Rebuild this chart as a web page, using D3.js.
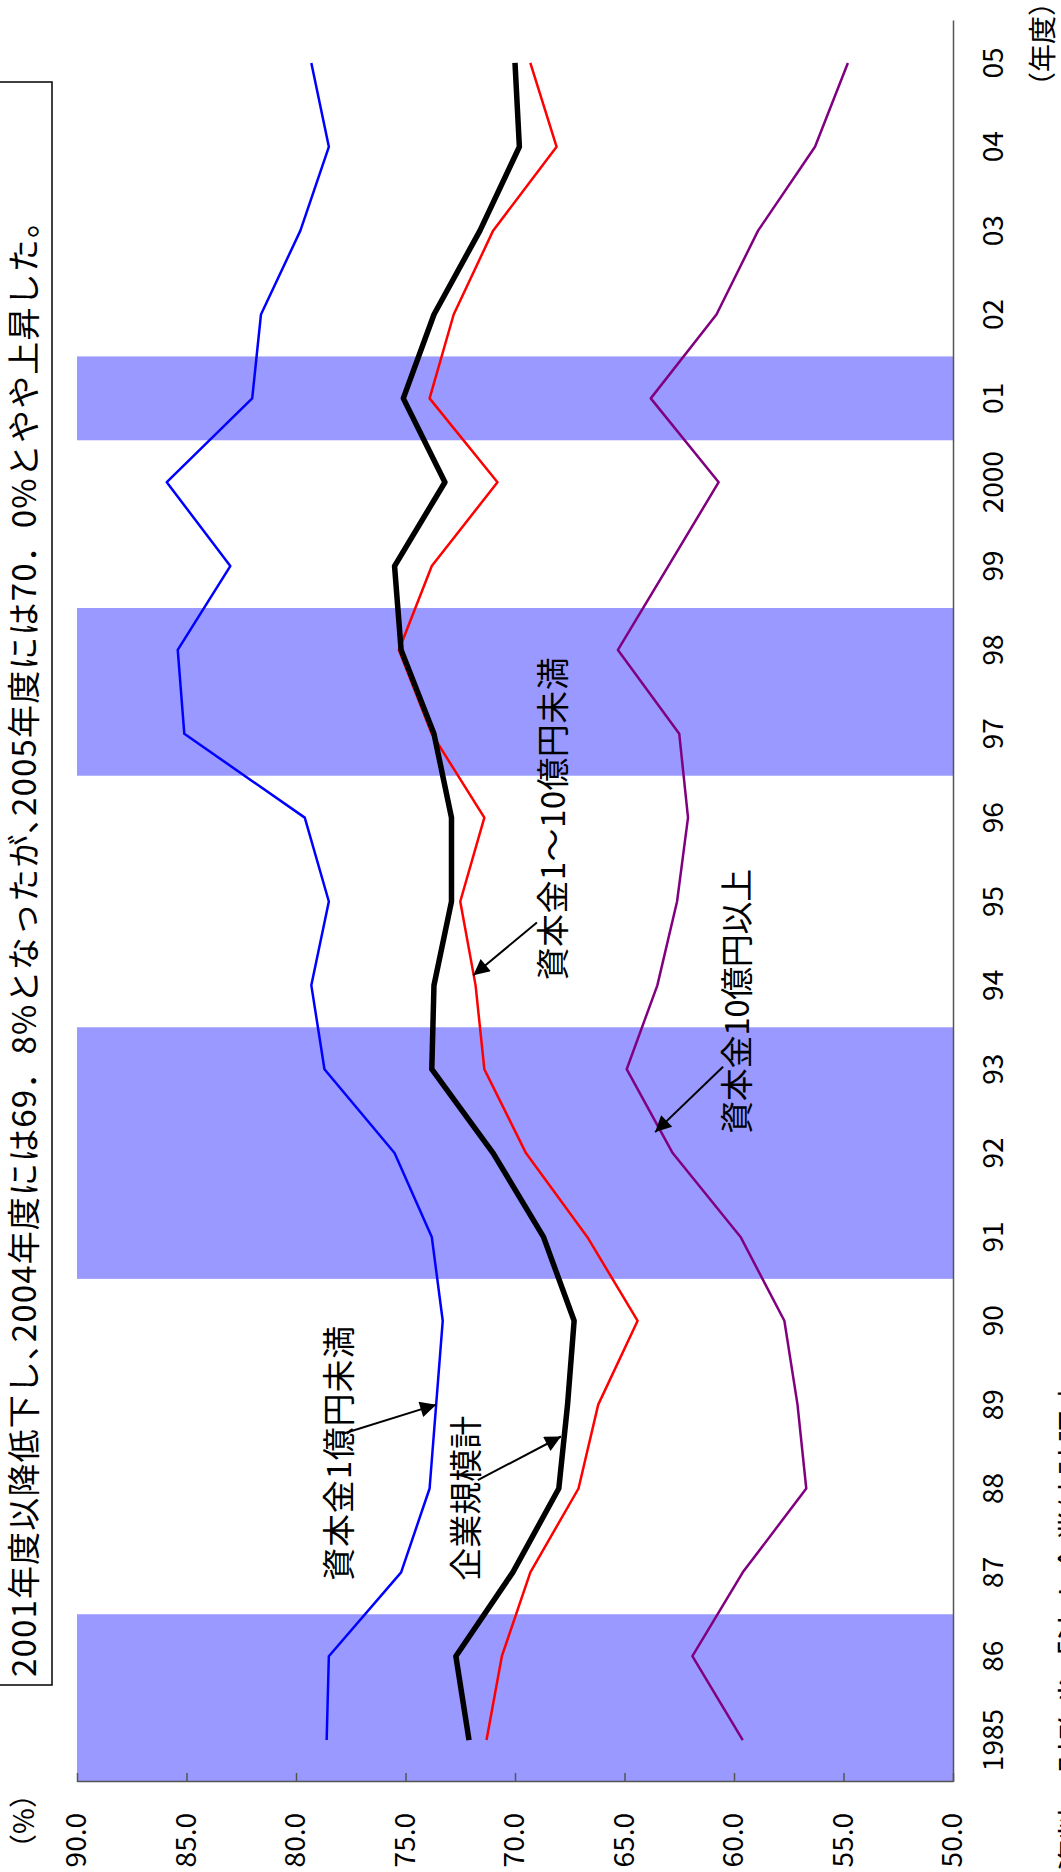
<!DOCTYPE html>
<html>
<head>
<meta charset="utf-8">
<title>企業規模別 労働分配率の推移</title>
<script src="https://d3js.org/d3.v7.min.js"></script>
<style>
  body { margin: 0; background: #fff; }
  svg { display: block; font-family: "Noto Sans CJK JP", sans-serif; }
  .palt { font-feature-settings: "palt"; }
</style>
</head>
<body>
<script>
// data (percent)
const years = [1985, 1986, 1987, 1988, 1989, 1990, 1991, 1992, 1993, 1994, 1995,
               1996, 1997, 1998, 1999, 2000, 2001, 2002, 2003, 2004, 2005];
const yearLabels = ["1985", "86", "87", "88", "89", "90", "91", "92", "93", "94", "95",
                    "96", "97", "98", "99", "2000", "01", "02", "03", "04", "05"];
const total     = [72.1, 72.7, 70.1, 68.0, 67.6, 67.3, 68.7, 71.0, 73.8, 73.7, 72.9,
                   72.9, 73.7, 75.2, 75.5, 73.2, 75.1, 73.7, 71.6, 69.8, 70.0];
const under1    = [78.6, 78.5, 75.2, 73.9, 73.6, 73.3, 73.8, 75.5, 78.7, 79.3, 78.5,
                   79.6, 85.1, 85.4, 83.0, 85.9, 82.0, 81.6, 79.8, 78.5, 79.3];
const from1to10 = [71.3, 70.6, 69.3, 67.1, 66.2, 64.4, 66.7, 69.5, 71.4, 71.8, 72.5,
                   71.4, 73.8, 75.3, 73.8, 70.8, 73.9, 72.8, 71.0, 68.1, 69.3];
const over10    = [59.6, 61.9, 59.6, 56.7, 57.1, 57.7, 59.7, 62.8, 64.9, 63.5, 62.6,
                   62.1, 62.5, 65.3, 63.0, 60.7, 63.8, 60.8, 58.9, 56.3, 54.8];
// shaded periods (first year, last year)
const shaded = [[1985, 1986], [1991, 1993], [1997, 1998], [2001, 2001]];
const valueTicks = [50, 55, 60, 65, 70, 75, 80, 85, 90];

const titleText = "2001年度以降低下し、2004年度には69．8%となったが、2005年度には70．0%とやや上昇した。";

// page is the chart turned a quarter turn, so draw flat and rotate
const W = 1061, H = 1872;
const svg = d3.select("body").append("svg").attr("width", W).attr("height", H);
const g = svg.append("g").attr("transform", `translate(0,${H}) rotate(-90)`);

const x = d3.scaleBand().domain(years).range([90, 1851]);
const y = d3.scaleLinear().domain([50, 90]).range([953, 77]);
const xc = d => x(d) + x.bandwidth() / 2;
// fractional year position for annotations
const xi = d3.scaleLinear().domain([0, years.length - 1]).range([xc(years[0]), xc(years[years.length - 1])]);

const defs = svg.append("defs");
defs.append("marker")
    .attr("id", "arrow")
    .attr("viewBox", "0 0 10 10")
    .attr("refX", 10).attr("refY", 5)
    .attr("markerUnits", "userSpaceOnUse")
    .attr("markerWidth", 21).attr("markerHeight", 16)
    .attr("orient", "auto")
  .append("path")
    .attr("d", "M0,0L10,5L0,10z")
    .attr("fill", "#000");

// shaded bands
g.append("g").selectAll("rect")
    .data(shaded)
    .join("rect")
    .attr("x", d => x(d[0]))
    .attr("width", d => x(d[1]) + x.bandwidth() - x(d[0]))
    .attr("y", y(90))
    .attr("height", y(50) - y(90))
    .attr("fill", "#9999ff");

// axes
const yAxis = g.append("g")
    .attr("transform", `translate(${x.range()[0]},0)`)
    .call(d3.axisLeft(y).tickValues(valueTicks).tickFormat(d3.format(".1f"))
        .tickSizeInner(-9).tickSizeOuter(0).tickPadding(31));
yAxis.attr("font-family", null).attr("font-size", 28);
yAxis.selectAll("path, line").attr("stroke", "#555").attr("stroke-width", 1.5);

const xAxis = g.append("g")
    .attr("transform", `translate(0,${y(50)})`)
    .call(d3.axisBottom(x).tickSize(0).tickPadding(30).tickFormat((d, i) => yearLabels[i]));
xAxis.attr("font-family", null).attr("font-size", 28);
xAxis.select(".domain").attr("stroke", "#555").attr("stroke-width", 1.5);

// lines
const line = d3.line().x((d, i) => xc(years[i])).y(d => y(d));
const series = [
    {values: over10, color: "#800080", width: 2.5},
    {values: from1to10, color: "#ff0000", width: 2.5},
    {values: under1, color: "#0000ff", width: 2.5},
    {values: total, color: "#000000", width: 5.5}
];
g.append("g").selectAll("path")
    .data(series)
    .join("path")
    .attr("d", d => line(d.values))
    .attr("fill", "none")
    .attr("stroke", d => d.color)
    .attr("stroke-width", d => d.width)
    .attr("stroke-linejoin", "round");

// annotations: label start (year index, value), arrow tail and tip (year index, value)
const notes = [
    {text: "資本金1億円未満", lx: 1.9, lv: 77.5, len: 255, tail: [3.65, 77.9], tip: [4.0, 73.6]},
    {text: "企業規模計", lx: 1.9, lv: 71.7, len: 165, tail: [3.1, 71.7], tip: [3.62, 67.9]},
    {text: "資本金1～10億円未満", lx: 9.06, lv: 67.7, len: 323, tail: [9.75, 69.0], tip: [9.12, 71.9]},
    {text: "資本金10億円以上", lx: 7.23, lv: 59.3, len: 265, tail: [8.03, 60.5], tip: [7.25, 63.6]}
];
const ann = g.append("g");
ann.selectAll("text")
    .data(notes)
    .join("text")
    .attr("x", d => xi(d.lx))
    .attr("y", d => y(d.lv))
    .attr("font-size", 33)
    .attr("textLength", d => d.len)
    .attr("lengthAdjust", "spacing")
    .text(d => d.text);
ann.selectAll("line")
    .data(notes)
    .join("line")
    .attr("x1", d => xi(d.tail[0]))
    .attr("y1", d => y(d.tail[1]))
    .attr("x2", d => xi(d.tip[0]))
    .attr("y2", d => y(d.tip[1]))
    .attr("stroke", "#000")
    .attr("stroke-width", 2)
    .attr("marker-end", "url(#arrow)");

// unit labels
g.append("text").attr("x", 51).attr("y", 34).attr("text-anchor", "middle")
    .attr("font-size", 28).text("（%）");
g.append("text").attr("x", 1772).attr("y", 1053)
    .attr("font-size", 28).text("（年度）");

// title box
g.append("rect")
    .attr("x", 187).attr("y", -2)
    .attr("width", 1603).attr("height", 54)
    .attr("fill", "#fff").attr("stroke", "#000").attr("stroke-width", 1.5);
const title = g.append("text")
    .attr("x", 195).attr("y", 36)
    .attr("font-size", 33)
    .attr("textLength", 1472)
    .attr("lengthAdjust", "spacing");
// the commas are set proportional, as in the reference
titleText.split(/(、)/).forEach(part => {
    title.append("tspan").attr("class", part === "、" ? "palt" : null).text(part);
});

// source note, cut off by the page edge
g.append("text").attr("x", 0).attr("y", 1086)
    .attr("font-size", 33).text("資料：財務省「法人企業統計調査」");
</script>
</body>
</html>
